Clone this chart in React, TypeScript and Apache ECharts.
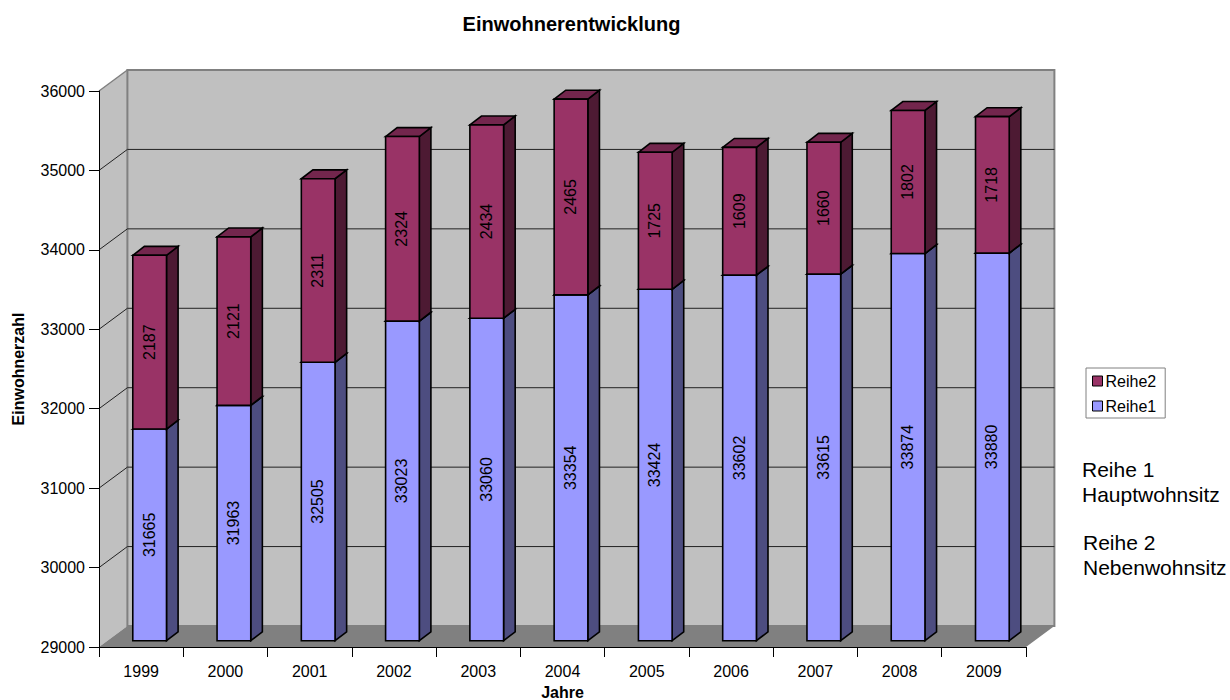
import React, { useEffect, useRef } from "react";
import * as echarts from "echarts";

const years = ["1999", "2000", "2001", "2002", "2003", "2004", "2005", "2006", "2007", "2008", "2009"];
const reihe1 = [31665, 31963, 32505, 33023, 33060, 33354, 33424, 33602, 33615, 33874, 33880];
const reihe2 = [2187, 2121, 2311, 2324, 2434, 2465, 1725, 1609, 1660, 1802, 1718];
const yTicks = [29000, 30000, 31000, 32000, 33000, 34000, 35000, 36000];

const FONT = '"Liberation Sans", Arial, sans-serif';

// Oblique projection of the 3D box: wall depth, bar inset and bar depth.
const WALL_DX = 28.4;
const WALL_DY = -21;
const BAR_INSET_DX = 8.5;
const BAR_INSET_DY = -6.3;
const BAR_DX = 11.6;
const BAR_DY = -8.9;
const BAR_WIDTH_RATIO = 0.4;

const poly = (points: number[][], fill: string, stroke?: string, lineWidth = 1) => ({
  type: "polygon",
  shape: { points },
  style: { fill, stroke: stroke ?? "none", lineWidth },
});

const renderWalls = (params: any) => {
  const { x, y, width, height } = params.coordSys;
  const bottom = y + height;
  const right = x + width;
  return {
    type: "group",
    children: [
      poly([[x, y], [x + WALL_DX, y + WALL_DY], [x + WALL_DX, bottom + WALL_DY], [x, bottom]], "#C0C0C0"),
      poly(
        [[x + WALL_DX, y + WALL_DY], [right + WALL_DX, y + WALL_DY], [right + WALL_DX, bottom + WALL_DY], [x + WALL_DX, bottom + WALL_DY]],
        "#C0C0C0",
        "#808080",
        2,
      ),
      poly(
        [[x, bottom], [x + WALL_DX, bottom + WALL_DY], [right + WALL_DX, bottom + WALL_DY], [right, bottom]],
        "#808080",
      ),
      {
        type: "line",
        shape: { x1: x, y1: y, x2: x + WALL_DX, y2: y + WALL_DY },
        style: { stroke: "#808080", lineWidth: 1.5 },
      },
    ],
  };
};

const renderGridLine = (params: any, api: any) => {
  const { x, width } = params.coordSys;
  const py = api.coord([0, api.value(0)])[1];
  return {
    type: "polyline",
    shape: { points: [[x, py], [x + WALL_DX, py + WALL_DY], [x + width + WALL_DX, py + WALL_DY]] },
    style: { fill: "none", stroke: "#222222", lineWidth: 1 },
  };
};

const makeBarRenderer = (front: string, top: string, side: string) => (_params: any, api: any) => {
  const index = api.value(0);
  const base = api.coord([index, api.value(1)]);
  const head = api.coord([index, api.value(2)]);
  const w = api.size([1, 0])[0] * BAR_WIDTH_RATIO;
  const x0 = base[0] + BAR_INSET_DX - w / 2;
  const x1 = x0 + w;
  const y0 = base[1] + BAR_INSET_DY;
  const y1 = head[1] + BAR_INSET_DY;
  const outline = "#000000";
  return {
    type: "group",
    children: [
      poly([[x1, y1], [x1 + BAR_DX, y1 + BAR_DY], [x1 + BAR_DX, y0 + BAR_DY], [x1, y0]], side, outline, 1.6),
      poly([[x0, y1], [x0 + BAR_DX, y1 + BAR_DY], [x1 + BAR_DX, y1 + BAR_DY], [x1, y1]], top, outline, 1.6),
      poly([[x0, y1], [x1, y1], [x1, y0], [x0, y0]], front, outline, 1.6),
      {
        type: "text",
        x: (x0 + x1) / 2 - 0.5,
        y: (y0 + y1) / 2,
        rotation: Math.PI / 2,
        style: {
          text: String(api.value(3)),
          align: "center",
          verticalAlign: "middle",
          fill: "#000000",
          font: `16px ${FONT}`,
        },
      },
    ],
  };
};

const noteText = (text: string, left: number, top: number) => ({
  type: "text",
  left,
  top,
  style: { text, fill: "#000000", font: `21px ${FONT}`, lineHeight: 25 },
});

export default function App() {
  const ref = useRef<HTMLDivElement>(null);

  useEffect(() => {
    const chart = echarts.init(ref.current!, null, { renderer: "svg" });
    const tickStyle = { show: true, lineStyle: { color: "#000000", width: 1 } };
    chart.setOption({
      animation: false,
      backgroundColor: "#ffffff",
      textStyle: { fontFamily: FONT },
      title: {
        text: "Einwohnerentwicklung",
        left: 566.5,
        top: 9,
        textAlign: "center",
        textStyle: { fontFamily: FONT, fontSize: 20, fontWeight: "bold", color: "#000000" },
      },
      grid: { left: 99, top: 91, width: 927, height: 556, containLabel: false, outerBoundsMode: "none" },
      legend: {
        orient: "vertical",
        left: 1086,
        top: 368,
        data: ["Reihe2", "Reihe1"],
        backgroundColor: "#ffffff",
        borderColor: "#808080",
        borderWidth: 1,
        borderRadius: 0,
        padding: [5, 9, 4, 6],
        itemGap: 9,
        itemWidth: 10,
        itemHeight: 10,
        icon: "rect",
        itemStyle: { borderColor: "#000000", borderWidth: 1 },
        textStyle: { fontFamily: FONT, fontSize: 16, color: "#000000", padding: [0, 0, 0, -2] },
        selectedMode: false,
      },
      xAxis: {
        type: "category",
        data: years,
        z: 5,
        name: "Jahre",
        nameLocation: "middle",
        nameGap: 37,
        nameTextStyle: { fontFamily: FONT, fontSize: 16, fontWeight: "bold", color: "#000000" },
        axisLine: { show: true, lineStyle: { color: "#000000", width: 1 } },
        axisTick: { ...tickStyle, length: 10, alignWithLabel: false },
        axisLabel: { fontFamily: FONT, fontSize: 16, color: "#000000", margin: 16 },
        splitLine: { show: false },
      },
      yAxis: {
        type: "value",
        min: 29000,
        max: 36000,
        interval: 1000,
        z: 5,
        name: "Einwohnerzahl",
        nameLocation: "middle",
        nameGap: 73,
        nameTextStyle: { fontFamily: FONT, fontSize: 16, fontWeight: "bold", color: "#000000" },
        axisLine: { show: true, lineStyle: { color: "#000000", width: 1 } },
        axisTick: { ...tickStyle, length: 10 },
        axisLabel: { fontFamily: FONT, fontSize: 16, color: "#000000", margin: 14, formatter: (v: number) => String(v) },
        splitLine: { show: false },
      },
      series: [
        {
          type: "custom",
          silent: true,
          z: 1,
          data: [[0]],
          renderItem: renderWalls,
        },
        {
          type: "custom",
          silent: true,
          z: 2,
          data: yTicks.slice(1, -1).map((v) => [v]),
          encode: { y: 0 },
          renderItem: renderGridLine,
        },
        {
          type: "custom",
          name: "Reihe1",
          z: 3,
          itemStyle: { color: "#9999FF" },
          data: years.map((_, i) => [i, 29000, reihe1[i], reihe1[i]]),
          encode: { x: 0, y: [1, 2] },
          renderItem: makeBarRenderer("#9999FF", "#7373BF", "#4D4D80"),
        },
        {
          type: "custom",
          name: "Reihe2",
          z: 4,
          itemStyle: { color: "#993366" },
          data: years.map((_, i) => [i, reihe1[i], reihe1[i] + reihe2[i], reihe2[i]]),
          encode: { x: 0, y: [1, 2] },
          renderItem: makeBarRenderer("#993366", "#73264D", "#4D1A33"),
        },
      ],
      graphic: [
        noteText("Reihe 1\nHauptwohnsitz", 1082, 457),
        noteText("Reihe 2\nNebenwohnsitz", 1083, 530),
      ],
    });
    return () => chart.dispose();
  }, []);

  return (
    <div
      ref={ref}
      style={{ position: "fixed", left: 0, top: 0, width: 1230, height: 700, background: "#ffffff" }}
    />
  );
}
